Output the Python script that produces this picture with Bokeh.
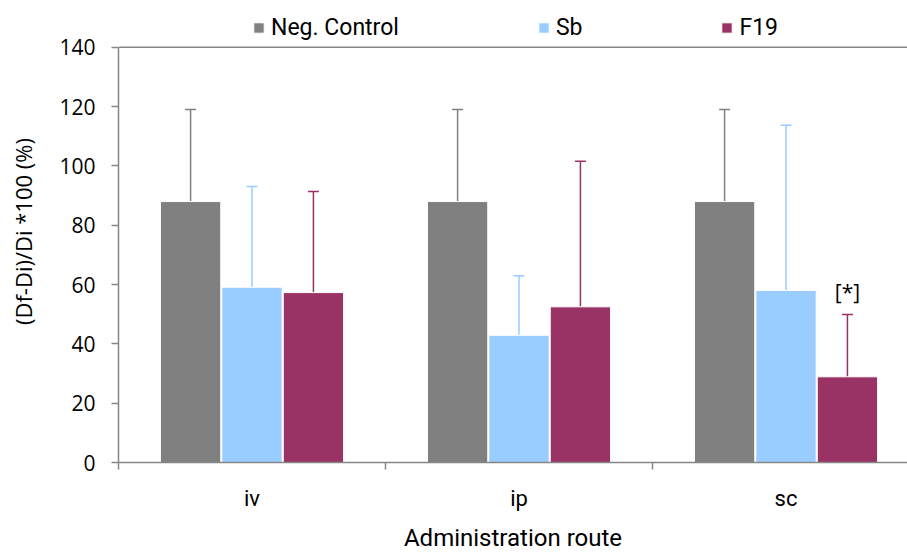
from bokeh.plotting import figure
from bokeh.models import (Range1d, FixedTicker, LinearAxis, Legend, LegendItem,
                          ColumnDataSource, Whisker, TeeHead, Span)
from bokeh.core.properties import value
from bokeh.embed import file_html
from bokeh.resources import INLINE

# Administration routes and treatment groups
routes = ["iv", "ip", "sc"]
groups = ["Neg. Control", "Sb", "F19"]
colors = ["#808080", "#99CCFF", "#993366"]

# Mean relative change (%) and upper error per group, in route order
neg_control = [88.0, 88.0, 88.0]
neg_control_err = [31.0, 31.0, 31.0]
sb = [59.1, 42.9, 58.0]
sb_err = [34.0, 20.1, 55.7]
f19 = [57.3, 52.5, 28.9]
f19_err = [34.1, 49.1, 21.0]

y_ticks = [0, 20, 40, 60, 80, 100, 120, 140]
significance_label = "[*]"

means = [neg_control, sb, f19]
errors = [neg_control_err, sb_err, f19_err]
offsets = [-0.23, 0.0, 0.23]
bar_width = 0.226

AXIS_COLOR = "#868686"
NUM_FONT = "Open Sans"
LABEL_FONT = "Roboto"

# the data area runs 0..140; the space above holds the legend row
Y_MAX = 140
Y_TOP = 155.8

p = figure(width=907, height=554, output_backend="svg", toolbar_location=None,
           x_range=Range1d(0, 2.955), y_range=Range1d(0, Y_TOP),
           min_border_left=118, min_border_right=0, min_border_top=0,
           min_border_bottom=91, x_axis_location=None, y_axis_location=None)
p.outline_line_color = None
p.xgrid.visible = False
p.ygrid.visible = False
p.background_fill_color = "white"
p.border_fill_color = "white"

# y axis
yaxis = LinearAxis(ticker=FixedTicker(ticks=y_ticks, minor_ticks=[]),
                   bounds=(0, Y_MAX))
yaxis.axis_label = "(Df-Di)/Di *100 (%)"
yaxis.axis_label_text_font = NUM_FONT
yaxis.axis_label_text_font_size = "22px"
yaxis.axis_label_text_font_style = "normal"
yaxis.axis_label_text_color = "#000000"
yaxis.axis_label_standoff = 18
yaxis.major_label_text_font = NUM_FONT
yaxis.major_label_text_font_size = "21px"
yaxis.major_label_text_color = "#000000"
yaxis.major_label_standoff = 16
yaxis.axis_line_color = AXIS_COLOR
yaxis.axis_line_width = 1.5
yaxis.major_tick_line_color = AXIS_COLOR
yaxis.major_tick_line_width = 1.5
yaxis.major_tick_out = 7
yaxis.major_tick_in = 0
yaxis.minor_tick_line_color = None
p.add_layout(yaxis, "left")

# x axis: labels centred on each route, ticks on the boundaries
centers = [i + 0.5 for i in range(len(routes))]
xaxis = LinearAxis(ticker=FixedTicker(ticks=centers, minor_ticks=[0, 1, 2, 3]))
xaxis.major_label_overrides = {c: r for c, r in zip(centers, routes)}
xaxis.major_label_text_font = LABEL_FONT
xaxis.major_label_text_font_size = "22px"
xaxis.major_label_text_color = "#000000"
xaxis.major_label_standoff = 16
xaxis.major_tick_line_color = None
xaxis.major_tick_out = 0
xaxis.major_tick_in = 0
xaxis.minor_tick_line_color = AXIS_COLOR
xaxis.minor_tick_line_width = 1.5
xaxis.minor_tick_out = 7
xaxis.minor_tick_in = 0
xaxis.axis_line_color = AXIS_COLOR
xaxis.axis_line_width = 1.5
xaxis.axis_label = "Administration route"
xaxis.axis_label_text_font = LABEL_FONT
xaxis.axis_label_text_font_size = "24px"
xaxis.axis_label_text_font_style = "normal"
xaxis.axis_label_text_color = "#000000"
xaxis.axis_label_standoff = 10
p.add_layout(xaxis, "below")

# top border line of the data area
p.add_layout(Span(location=Y_MAX, dimension="width", line_color=AXIS_COLOR,
                  line_width=1.5))

bar_renderers = []
for g, (m, e, off, col) in enumerate(zip(means, errors, offsets, colors)):
    xs = [c + off for c in centers]
    src = ColumnDataSource(dict(x=xs, top=m, upper=[a + b for a, b in zip(m, e)]))
    r = p.vbar(x="x", top="top", width=bar_width, source=src,
               fill_color=col, line_color="white", line_width=1)
    bar_renderers.append(r)
    w = Whisker(base="x", upper="upper", lower="top", source=src,
                dimension="height", line_color=col, line_width=1.5,
                upper_head=TeeHead(size=11, line_color=col, line_width=1.5),
                lower_head=None)
    p.add_layout(w)

# significance marker above the F19 bar of the last route
p.text(x=[centers[2] + offsets[2]], y=[57.4], text=[significance_label],
       text_align="center", text_baseline="middle",
       text_font=value(NUM_FONT), text_font_size="21px", text_color="#000000")

# legend in a row above the data area
legend = Legend(items=[LegendItem(label=name, renderers=[r])
                       for name, r in zip(groups, bar_renderers)],
                location=(134, 421), orientation="horizontal",
                glyph_width=13, glyph_height=13, label_standoff=6, spacing=138,
                padding=0, margin=0, border_line_color=None,
                background_fill_alpha=0,
                label_text_font=LABEL_FONT, label_text_font_size="23px",
                label_text_color="#000000")
p.add_layout(legend)

open("out.html", "w").write(file_html(p, INLINE))
